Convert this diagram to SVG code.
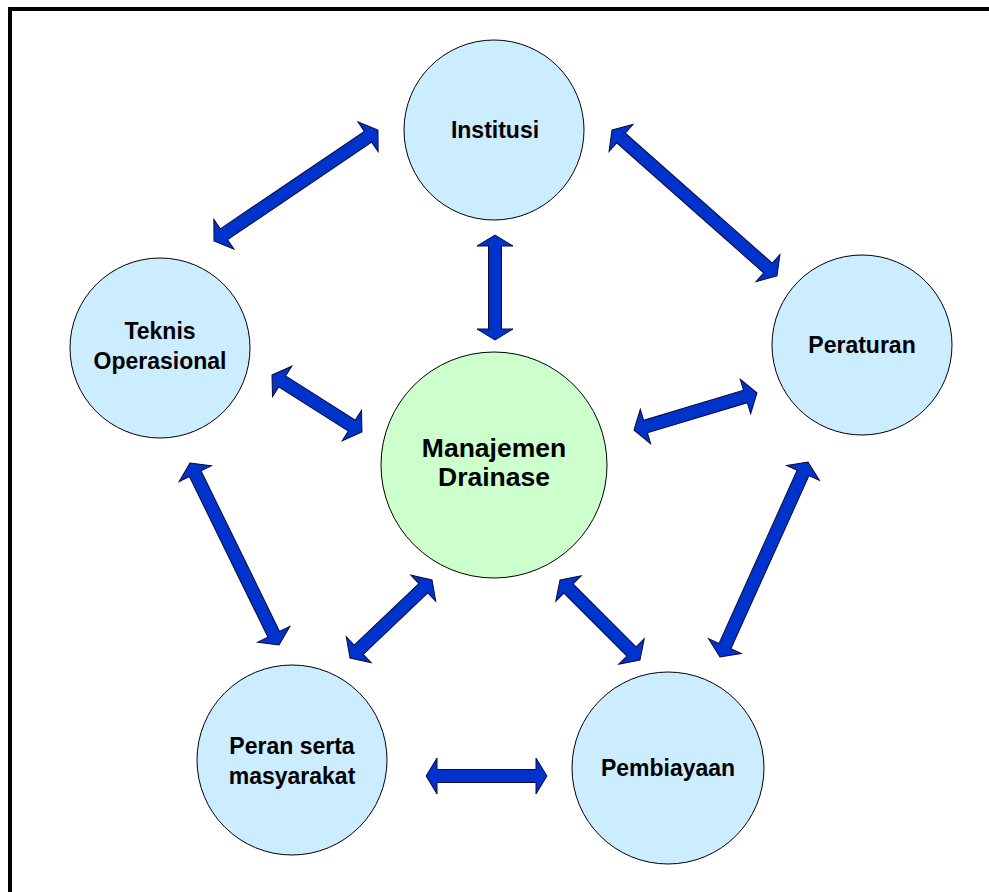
<svg xmlns="http://www.w3.org/2000/svg" width="989" height="892" viewBox="0 0 989 892">
  <style>
    .node { fill: #CCECFF; stroke: #000; stroke-width: 1; }
    .core { fill: #CCFFCC; stroke: #000; stroke-width: 1; }
    .label { font-family: "Liberation Sans", Arial, sans-serif; font-weight: bold; font-size: 23px; fill: #000; text-anchor: middle; }
    .big { font-size: 26.5px; }
    .arrow { fill: #0033CC; stroke: #0a0a33; stroke-width: 1; stroke-linejoin: miter; }
  </style>
  <rect x="0" y="0" width="989" height="892" fill="#fff"/>
  <!-- frame: left and top edges only, the rest runs off the page -->
  <path d="M10,892 V9 H989" fill="none" stroke="#000" stroke-width="4"/>

  <!-- double-headed block arrows; each drawn along +x from the origin, then placed -->
  <g id="connectors">
    <path class="arrow" transform="translate(214,241) rotate(-34.09)" d="M0,0 L12,-18 L12,-6.5 L186,-6.5 L186,-18 L198,0 L186,18 L186,6.5 L12,6.5 L12,18 Z"/>
    <path class="arrow" transform="translate(612,130) rotate(41.5)" d="M0,0 L12,-18 L12,-6.5 L208.3,-6.5 L208.3,-18 L220.3,0 L208.3,18 L208.3,6.5 L12,6.5 L12,18 Z"/>
    <path class="arrow" transform="translate(495,235) rotate(90)" d="M0,0 L11,-18 L11,-6.5 L94,-6.5 L94,-18 L105,0 L94,18 L94,6.5 L11,6.5 L11,18 Z"/>
    <path class="arrow" transform="translate(272,375) rotate(32.35)" d="M0,0 L12,-18 L12,-6.5 L94.5,-6.5 L94.5,-18 L106.5,0 L94.5,18 L94.5,6.5 L12,6.5 L12,18 Z"/>
    <path class="arrow" transform="translate(634,430) rotate(-16.74)" d="M0,0 L12,-18 L12,-6.5 L116.4,-6.5 L116.4,-18 L128.4,0 L116.4,18 L116.4,6.5 L12,6.5 L12,18 Z"/>
    <path class="arrow" transform="translate(190,463) rotate(63.94)" d="M0,0 L12,-18 L12,-6.5 L190.6,-6.5 L190.6,-18 L202.6,0 L190.6,18 L190.6,6.5 L12,6.5 L12,18 Z"/>
    <path class="arrow" transform="translate(720,657) rotate(-65.71)" d="M0,0 L12,-18 L12,-6.5 L201.9,-6.5 L201.9,-18 L213.9,0 L201.9,18 L201.9,6.5 L12,6.5 L12,18 Z"/>
    <path class="arrow" transform="translate(350,658) rotate(-43.57)" d="M0,0 L12,-18 L12,-6.5 L101.2,-6.5 L101.2,-18 L113.2,0 L101.2,18 L101.2,6.5 L12,6.5 L12,18 Z"/>
    <path class="arrow" transform="translate(560,580) rotate(45)" d="M0,0 L12,-18 L12,-6.5 L101.1,-6.5 L101.1,-18 L113.1,0 L101.1,18 L101.1,6.5 L12,6.5 L12,18 Z"/>
    <path class="arrow" transform="translate(426,776)" d="M0,0 L11,-18 L11,-6.5 L110,-6.5 L110,-18 L121,0 L110,18 L110,6.5 L11,6.5 L11,18 Z"/>
  </g>

  <g id="institusi">
    <circle class="node" cx="494" cy="130" r="90"/>
    <text class="label" x="495" y="138">Institusi</text>
  </g>
  <g id="peraturan">
    <circle class="node" cx="862" cy="345" r="90"/>
    <text class="label" x="862" y="353">Peraturan</text>
  </g>
  <g id="teknis-operasional">
    <circle class="node" cx="160" cy="348" r="90"/>
    <text class="label" x="160" y="339">Teknis</text>
    <text class="label" x="160" y="369">Operasional</text>
  </g>
  <g id="manajemen-drainase">
    <circle class="core" cx="494" cy="465" r="113"/>
    <text class="label big" x="494" y="457">Manajemen</text>
    <text class="label big" x="494" y="486">Drainase</text>
  </g>
  <g id="peran-serta-masyarakat">
    <circle class="node" cx="292" cy="760" r="95"/>
    <text class="label" x="292" y="754">Peran serta</text>
    <text class="label" x="292" y="784">masyarakat</text>
  </g>
  <g id="pembiayaan">
    <circle class="node" cx="668" cy="768" r="96"/>
    <text class="label" x="668" y="776">Pembiayaan</text>
  </g>
</svg>
